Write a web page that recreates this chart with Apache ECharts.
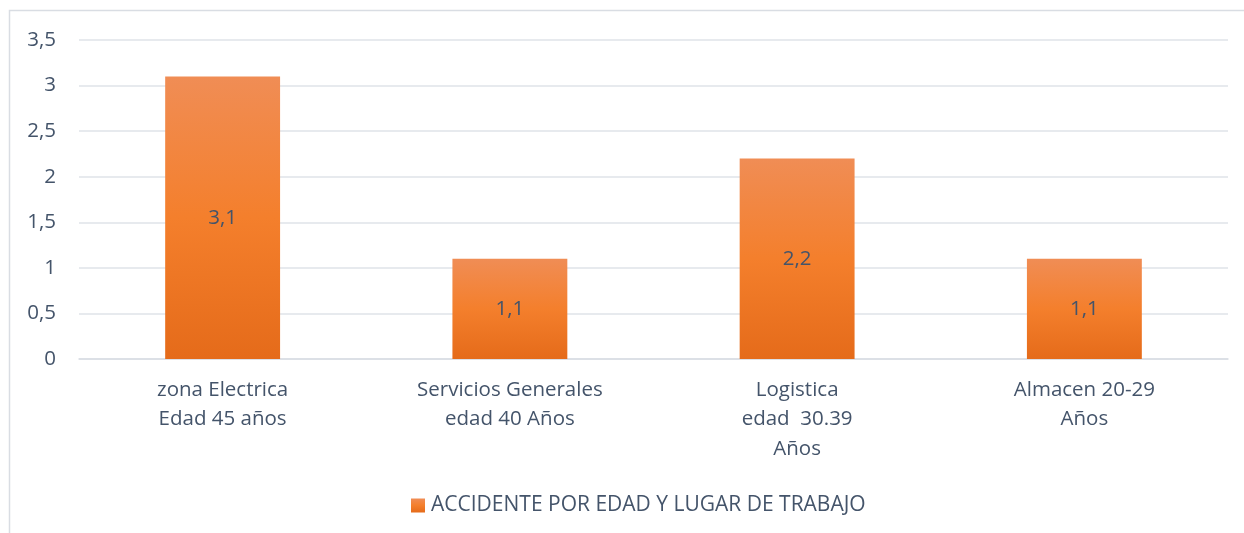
<!DOCTYPE html>
<html>
<head>
<meta charset="utf-8">
<script src="https://cdn.jsdelivr.net/npm/echarts@6/dist/echarts.min.js"></script>
<style>
  html, body { margin: 0; padding: 0; background: #fff; }
  #chart { width: 1244px; height: 533px; }
</style>
</head>
<body>
<div id="chart"></div>
<script>
// categories (x axis) and values
const categories = [
  'zona Electrica\nEdad 45 años',
  'Servicios Generales\nedad 40 Años',
  'Logistica\nedad  30.39\nAños',
  'Almacen 20-29\nAños'
];
const values = [3.1, 1.1, 2.2, 1.1];
const seriesName = 'ACCIDENTE POR EDAD Y LUGAR DE TRABAJO';

const textColor = '#44546a';
const fontFamily = '"Open Sans", "Noto Sans", sans-serif';
const fontSize = 20.5;
const fmt = v => String(v).replace('.', ',');

const barGradient = new echarts.graphic.LinearGradient(0, 0, 0, 1, [
  { offset: 0, color: '#f08d55' },
  { offset: 0.5, color: '#f47f2c' },
  { offset: 1, color: '#e56b1a' }
]);

const chart = echarts.init(document.getElementById('chart'));
chart.setOption({
  animation: false,
  textStyle: { fontFamily: fontFamily },
  graphic: [{
    type: 'rect',
    shape: { x: 9.5, y: 10.5, width: 1400, height: 700 },
    style: { fill: 'none', stroke: '#d9dde3', lineWidth: 1.5 },
    silent: true
  }],
  grid: { left: 79, right: 16, top: 40, bottom: 174 },
  legend: {
    top: 490,
    left: 406,
    itemWidth: 14,
    itemHeight: 14,
    itemGap: 8,
    icon: 'rect',
    textStyle: { color: textColor, fontSize: 21, fontFamily: fontFamily, padding: [0, 0, 0, 1] },
    data: [seriesName]
  },
  xAxis: {
    type: 'category',
    data: categories,
    axisLine: { lineStyle: { color: '#d9dde3', width: 1.5 } },
    axisTick: { show: false },
    axisLabel: {
      color: textColor,
      fontSize: fontSize,
      lineHeight: 29.5,
      margin: 16,
      interval: 0
    }
  },
  yAxis: {
    type: 'value',
    min: 0,
    max: 3.5,
    interval: 0.5,
    axisLine: { show: false },
    axisTick: { show: false },
    splitLine: { lineStyle: { color: '#dfe3e9', width: 1.5 } },
    axisLabel: {
      color: textColor,
      fontSize: fontSize,
      margin: 23,
      formatter: v => fmt(v)
    }
  },
  series: [{
    name: seriesName,
    type: 'bar',
    data: values,
    barWidth: '40%',
    itemStyle: { color: barGradient },
    label: {
      show: true,
      position: 'inside',
      color: textColor,
      fontSize: fontSize,
      formatter: p => fmt(p.value)
    }
  }]
});
</script>
</body>
</html>
